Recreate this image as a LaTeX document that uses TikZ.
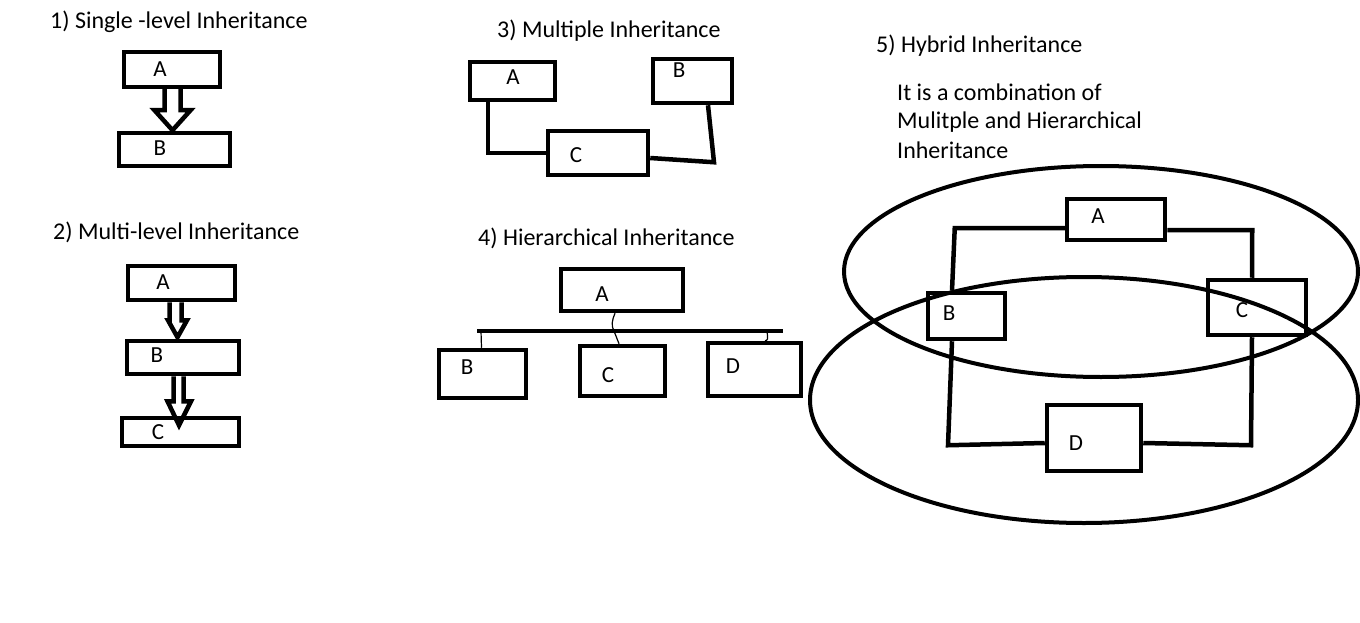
\documentclass[tikz,border=0pt]{standalone}
\usepackage{fontspec}
\setmainfont{Carlito}
\usepackage{tikz}

\begin{document}
\begin{tikzpicture}[x=1pt, y=-1pt,
    cls/.style={draw, line width=4.5pt, inner sep=0pt},
    lbl/.style={anchor=base, inner sep=0pt, font=\fontsize{23}{27}\selectfont},
    ttl/.style={anchor=base west, inner sep=0pt, font=\fontsize{24}{28}\selectfont},
    link/.style={line width=4.5pt},
    hollow/.style={line width=4.5pt, line join=miter},
    twig/.style={line width=1.2pt},
    ring/.style={line width=4pt}]
             \useasboundingbox (0,0) rectangle (1360,623);

             \node[ttl] (t1) at (50, 29) {1) Single -level Inheritance};
             \node[cls, minimum width=96, minimum height=35] (sA) at (172, 69.5) {};
             \node[cls, minimum width=111, minimum height=33] (sB) at (174.5, 149.5) {};
             \node[lbl] (sAt) at (160, 77) {A};
             \node[lbl] (sBt) at (160, 156) {B};
             \draw[hollow] ([xshift=-7.5pt]sA.south) -- ++(0,21) -- ++(-10,0) -- ++(18,20)
                 -- ++(18,-20) -- ++(-10,0) -- ++(0,-21);

             \node[ttl] (t2) at (53, 239) {2) Multi-level Inheritance};
             \node[cls, minimum width=107, minimum height=34] (mA) at (181.5, 283) {};
             \node[cls, minimum width=112, minimum height=33] (mB) at (183, 357.5) {};
             \node[cls, minimum width=117, minimum height=28] (mC) at (180.5, 432) {};
             \node[lbl] (mAt) at (163, 289) {A};
             \node[lbl] (mBt) at (157, 362) {B};
             \node[lbl] (mCt) at (158, 439) {C};
             \draw[hollow] ([xshift=-12pt]mA.south) -- ++(0,18) -- ++(-1.5,0) -- ++(9.5,17)
                 -- ++(9.5,-17) -- ++(-5.5,0) -- ++(0,-18);
             \draw[hollow] ([xshift=-9.5pt]mB.south) -- ++(0,25) -- ++(-6,0) -- ++(11.5,24)
                 -- ++(12,-24) -- ++(-7.5,0) -- ++(0,-25);

             \node[ttl] (t3) at (497, 38) {3) Multiple Inheritance};
             \node[cls, minimum width=85, minimum height=38] (pA) at (512.5, 81) {};
             \node[cls, minimum width=79, minimum height=44] (pB) at (692.5, 81) {};
             \node[cls, minimum width=100, minimum height=44] (pC) at (598, 153) {};
             \node[lbl] (pAt) at (513, 85) {A};
             \node[lbl] (pBt) at (679, 78) {B};
             \node[lbl] (pCt) at (576, 162) {C};
             \draw[link] ([xshift=-24.5pt]pA.south) |- (pC.west);
             \draw[link] ([xshift=15.5pt]pB.south) -- ++(6,57) -- ([yshift=-5pt]pC.east);

             \node[ttl] (t4) at (478, 245) {4) Hierarchical Inheritance};
             \node[cls, minimum width=122, minimum height=42] (hA) at (622, 290) {};
             \node[cls, minimum width=87, minimum height=48] (hB) at (482.5, 374) {};
             \node[cls, minimum width=85, minimum height=50] (hC) at (622.5, 371) {};
             \node[cls, minimum width=93, minimum height=53] (hD) at (754.5, 369.5) {};
             \node[lbl] (hAt) at (602, 301) {A};
             \node[lbl] (hBt) at (467, 374) {B};
             \node[lbl] (hCt) at (608, 382) {C};
             \node[lbl] (hDt) at (733, 373) {D};
             \coordinate (barL) at (477, 331);
             \coordinate (barR) at (783, 331);
             \coordinate (jB) at (481, 331);
             \coordinate (jC) at (614, 331);
             \coordinate (jD) at (767, 331);
             \draw[link] (barL) -- (barR);
             \draw[twig] ([xshift=-7pt]hA.south) .. controls (612, 320) and (611, 326) .. (jC)
                 .. controls (617, 337) .. ([xshift=-3.5pt]hC.north);
             \draw[twig] (jB) -- ([xshift=-1pt]hB.north);
             \draw[twig] (jD) .. controls (768, 340) .. ([xshift=10.5pt]hD.north);

             \node[ttl] (t5) at (876, 53) {5) Hybrid Inheritance};
             \node[ttl] (d1) at (897, 101) {It is a combination of};
             \node[ttl] (d2) at (897, 129) {Mulitple and Hierarchical};
             \node[ttl] (d3) at (897, 158) {Inheritance};
             \node[cls, minimum width=98, minimum height=41] (yA) at (1116, 219.5) {};
             \node[cls, minimum width=77, minimum height=46] (yB) at (966.5, 316) {};
             \node[cls, minimum width=98, minimum height=55] (yC) at (1257, 307.5) {};
             \node[cls, minimum width=94, minimum height=66] (yD) at (1094, 438) {};
             \node[lbl] (yAt) at (1098, 223) {A};
             \node[lbl] (yBt) at (949, 320) {B};
             \node[lbl] (yCt) at (1242, 317) {C};
             \node[lbl] (yDt) at (1076, 450) {D};
             \draw[link] ([yshift=-8.5pt]yA.west) -- ++(-110,0) -- ([xshift=-14.5pt]yB.north);
             \draw[link] ([yshift=-10.5pt]yA.east) -- ++(85,0) -- ([xshift=-5pt]yC.north);
             \draw[link] ([xshift=-14.5pt]yB.south) -- ++(-4,104) -- ([yshift=-5pt]yD.west);
             \draw[link] ([xshift=-5pt]yC.south) -- ++(-1,108) -- ([yshift=-5pt]yD.east);
             \draw[ring] (1101, 271.5) ellipse [x radius=257, y radius=105.5];
             \draw[ring] (1084, 400) ellipse [x radius=274, y radius=123];

             \end{tikzpicture}
\end{document}
